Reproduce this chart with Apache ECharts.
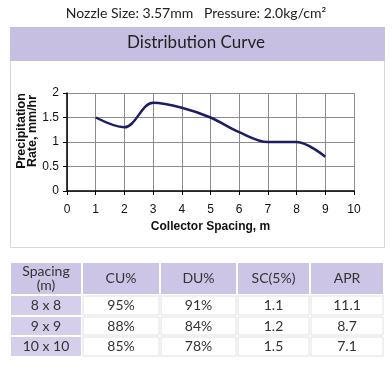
<!DOCTYPE html>
<html><head><meta charset="utf-8">
<script src="https://cdn.jsdelivr.net/npm/echarts@6/dist/echarts.min.js"></script>
<style>html,body{margin:0;padding:0;background:#fff}#c{width:392px;height:368px}</style>
</head><body><div id="c"></div>
<script>
var spacingX = [1, 2, 3, 4, 5, 6, 7, 8, 9];
var precipRate = [1.5, 1.3, 1.8, 1.7, 1.5, 1.2, 1.0, 1.0, 0.7];
var tableHeaders = ['Spacing\n(m)', 'CU%', 'DU%', 'SC(5%)', 'APR'];
var tableSpacing = ['8 x 8', '9 x 9', '10 x 10'];
var tableCU = ['95%', '88%', '85%'];
var tableDU = ['91%', '84%', '78%'];
var tableSC = ['1.1', '1.2', '1.5'];
var tableAPR = ['11.1', '8.7', '7.1'];

var FONT = 'Lato, "Open Sans", sans-serif';
var AFONT = 'Arial, "Liberation Sans", sans-serif';
var colX = [10, 82, 160, 237, 310, 384];
var rowY = [262, 295, 316, 336, 357];
var graphics = [];
graphics.push({type:'text', left:'center', top:6, style:{text:'Nozzle Size: 3.57mm   Pressure: 2.0kg/cm\u00b2', font:'14px '+FONT, fill:'#222'}});
graphics.push({type:'rect', z:-10, shape:{x:10.5, y:27.5, width:374, height:220}, style:{fill:'#fff', stroke:'#d8d8d8', lineWidth:1}});
graphics.push({type:'rect', z:-9, shape:{x:10, y:27, width:375, height:34}, style:{fill:'#c7bfe2'}});
graphics.push({type:'text', left:'center', top:34, z:-8, style:{text:'Distribution Curve', font:'17px '+FONT, fill:'#222'}});
var cols = [tableSpacing, tableCU, tableDU, tableSC, tableAPR];
for (var c = 0; c < 5; c++) {
  for (var r = 0; r < 4; r++) {
    var purple = (r === 0 || c === 0);
    var x0 = colX[c], x1 = colX[c+1], y0 = rowY[r], y1 = rowY[r+1];
    graphics.push({type:'rect', shape:{x:x0+1, y:y0+1, width:x1-x0-2, height:y1-y0-2},
      style:{fill: r === 0 ? '#cdc5e6' : (purple ? '#d6cfeb' : '#fff'), stroke: purple ? null : '#e2e2e2', lineWidth:1}});
    var txt = r === 0 ? tableHeaders[c] : cols[c][r-1];
    graphics.push({type:'text', x:(x0+x1)/2, y:(y0+y1)/2,
      style:{text:txt, font:'14px '+FONT, fill:'#333', align:'center', verticalAlign:'middle', lineHeight:14}});
  }
}

var chart = echarts.init(document.getElementById('c'));
chart.setOption({
  animation:false,
  graphic: graphics,
  grid:{left:67, right:38, top:93, bottom:177},
  xAxis:{type:'value', min:0, max:10, interval:1,
    name:'Collector Spacing, m', nameLocation:'middle', nameGap:30, nameMoveOverlap:false,
    nameTextStyle:{fontFamily:AFONT, fontWeight:'bold', fontSize:12, color:'#111'},
    axisLine:{onZero:false, lineStyle:{color:'#000', width:1.5}},
    axisTick:{show:true, length:4, lineStyle:{color:'#000'}},
    axisLabel:{fontFamily:AFONT, fontSize:12, color:'#111', margin:13},
    splitLine:{lineStyle:{color:'#8c8c8c', width:1}}},
  yAxis:{type:'value', min:0, max:2, interval:0.5,
    name:'Precipitation\nRate, mm/hr', nameLocation:'middle', nameGap:29, nameRotate:90, nameMoveOverlap:false,
    nameTextStyle:{fontFamily:AFONT, fontWeight:'bold', fontSize:12.5, color:'#111', lineHeight:11, padding:[0,0,0,22]},
    axisLine:{show:true, lineStyle:{color:'#000', width:1.5}},
    axisTick:{show:true, length:4, lineStyle:{color:'#000'}},
    axisLabel:{fontFamily:AFONT, fontSize:12, color:'#111', margin:8},
    splitLine:{lineStyle:{color:'#8c8c8c', width:1}}},
  series:[{type:'line', smooth:0.35, showSymbol:false,
    data: spacingX.map(function(x,i){return [x, precipRate[i]];}),
    lineStyle:{color:'#1d1d66', width:2.5}}]
});
</script></body></html>
